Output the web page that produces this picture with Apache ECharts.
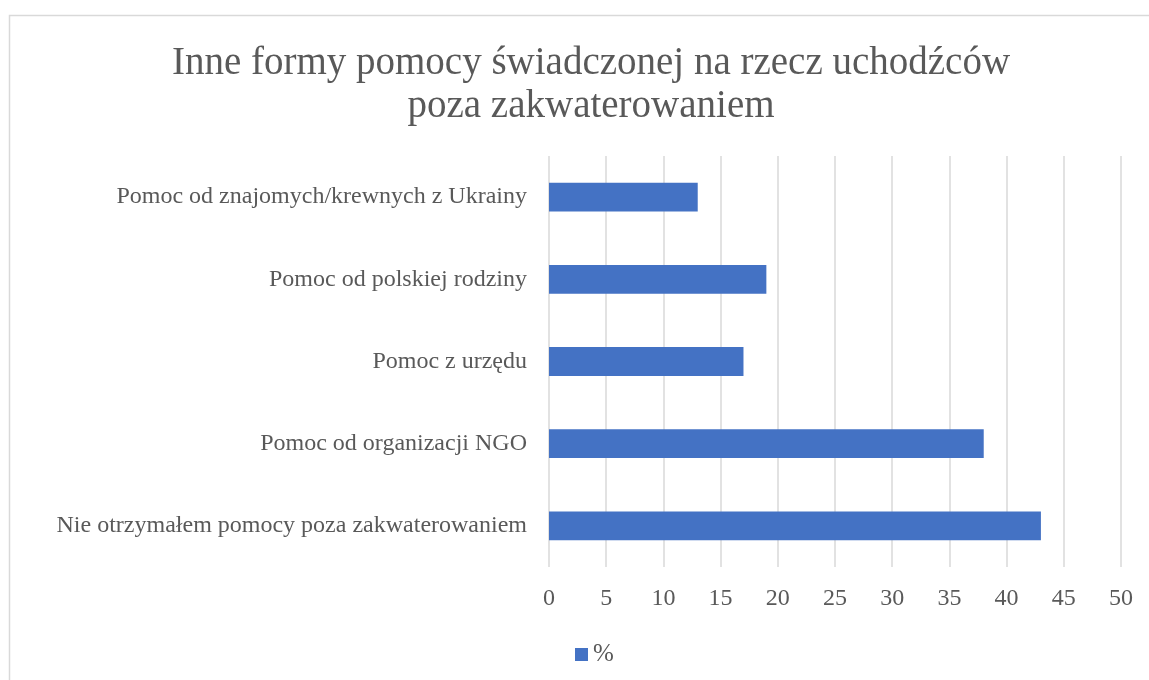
<!DOCTYPE html>
<html>
<head>
<meta charset="utf-8">
<script src="https://cdn.jsdelivr.net/npm/echarts@6/dist/echarts.min.js"></script>
<style>
  html, body { margin: 0; padding: 0; background: #fff; }
  #chart { width: 1149px; height: 680px; }
</style>
</head>
<body>
<div id="chart"></div>
<script>
// data
const categories = [
  "Pomoc od znajomych/krewnych z Ukrainy",
  "Pomoc od polskiej rodziny",
  "Pomoc z urzędu",
  "Pomoc od organizacji NGO",
  "Nie otrzymałem pomocy poza zakwaterowaniem",
];
const values = [13, 19, 17, 38, 43];
const seriesName = "%";
const titleText = "Inne formy pomocy świadczonej na rzecz uchodźców\npoza zakwaterowaniem";

const font = "'Liberation Serif', 'DejaVu Serif', serif";
const textColor = "#595959";

let myChart = echarts.init(document.getElementById("chart"));

myChart.setOption({
  animation: false,
  title: {
    text: titleText,
    left: 586,
    textAlign: "center",
    top: 37,
    textStyle: {
      fontFamily: font,
      fontSize: 39,
      fontWeight: "normal",
      color: textColor,
      lineHeight: 43,
    },
  },
  graphic: [
    {
      type: "rect",
      shape: { x: 9.5, y: 15.5, width: 1160, height: 700 },
      style: { fill: null, stroke: "#d9d9d9", lineWidth: 1.5 },
      silent: true,
    },
  ],
  legend: {
    data: [seriesName],
    left: 570,
    top: 637,
    itemWidth: 13,
    itemHeight: 13,
    icon: "rect",
    textStyle: { fontFamily: font, fontSize: 25, color: textColor },
  },
  grid: {
    left: 549,
    right: 28,
    top: 156,
    bottom: 113,
    containLabel: false,
  },
  xAxis: {
    type: "value",
    min: 0,
    max: 50,
    interval: 5,
    axisLine: { show: false },
    axisTick: { show: false },
    splitLine: { lineStyle: { color: "#d9d9d9", width: 1.5 } },
    axisLabel: {
      color: textColor,
      fontFamily: font,
      fontSize: 24,
      margin: 20,
    },
  },
  yAxis: {
    type: "category",
    data: categories,
    inverse: true,
    axisLine: { show: false },
    axisTick: { show: false },
    axisLabel: {
      color: textColor,
      fontFamily: font,
      fontSize: 24,
      margin: 22,
    },
  },
  series: [
    {
      name: seriesName,
      type: "bar",
      data: values,
      barWidth: "35%",
      itemStyle: { color: "#4472C4" },
    },
  ],
});
</script>
</body>
</html>
